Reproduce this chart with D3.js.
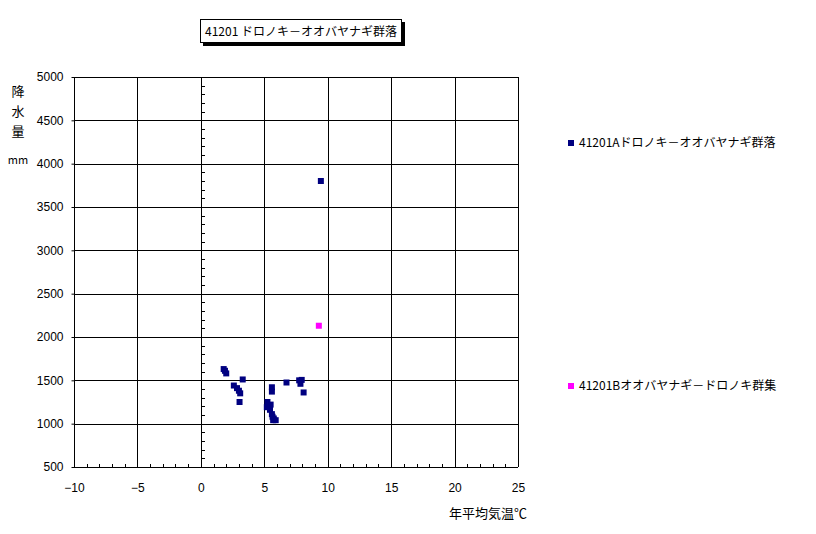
<!DOCTYPE html>
<html>
<head>
<meta charset="utf-8">
<script src="https://cdn.jsdelivr.net/npm/d3@7"></script>
<style>
  body { margin: 0; background: #fff; }
  text { font-family: "Noto Sans CJK JP", "DejaVu Sans", sans-serif; font-size: 12px; fill: #000; }
  .grid line { stroke: #000; stroke-width: 1; shape-rendering: crispEdges; }
  .num text { font-family: "Liberation Sans", sans-serif; font-size: 12px; }
</style>
</head>
<body>
<script>
var width = 816,
    height = 534;

var margin = {top: 77, left: 74, right: 298, bottom: 67};

// data
var titleText = "41201 ドロノキ－オオバヤナギ群落";
var seriesNames = ["41201Aドロノキ－オオバヤナギ群落", "41201Bオオバヤナギ－ドロノキ群集"];
var seriesColors = ["#000080", "#ff00ff"];
var xTicks = [-10, -5, 0, 5, 10, 15, 20, 25];
var yTicks = [500, 1000, 1500, 2000, 2500, 3000, 3500, 4000, 4500, 5000];

var seriesA = [
  [1.8, 1630], [1.9, 1610], [2.0, 1580],
  [3.3, 1510],
  [2.6, 1440], [2.85, 1410], [3.0, 1380], [3.1, 1350], [3.05, 1250],
  [5.6, 1420], [5.6, 1370],
  [5.25, 1250], [5.5, 1220], [5.2, 1190], [5.45, 1160], [5.6, 1110],
  [5.65, 1080], [5.75, 1060], [5.9, 1040], [5.7, 1040],
  [6.75, 1475],
  [7.75, 1500], [7.95, 1505], [7.85, 1460],
  [8.1, 1360],
  [9.46, 3800]
];
var seriesB = [
  [9.3, 2130]
];

var svg = d3.select("body").append("svg")
    .attr("width", width)
    .attr("height", height);

var x = d3.scaleLinear()
    .domain([-10, 25])
    .range([margin.left, width - margin.right]);

var y = d3.scaleLinear()
    .domain([500, 5000])
    .range([height - margin.bottom, margin.top]);

// grid
var grid = svg.append("g").attr("class", "grid");

grid.selectAll("line.v")
    .data(xTicks)
  .enter().append("line")
    .attr("class", "v")
    .attr("x1", function(d) { return Math.round(x(d)) + 0.5; })
    .attr("x2", function(d) { return Math.round(x(d)) + 0.5; })
    .attr("y1", y(5000))
    .attr("y2", y(500));

grid.selectAll("line.h")
    .data(yTicks)
  .enter().append("line")
    .attr("class", "h")
    .attr("x1", x(-10))
    .attr("x2", x(25))
    .attr("y1", function(d) { return Math.round(y(d)) + 0.5; })
    .attr("y2", function(d) { return Math.round(y(d)) + 0.5; });

// y axis on the left edge: outward major ticks
var yAxis = d3.axisLeft(y)
    .tickValues(yTicks)
    .tickSize(3)
    .tickPadding(8)
    .tickFormat(d3.format("d"));

var gy = svg.append("g")
    .attr("class", "num")
    .attr("transform", "translate(" + (Math.round(x(-10)) + 0.5) + ",0)")
    .call(yAxis);
gy.select(".domain").remove();

// x axis labels
var xAxis = d3.axisBottom(x)
    .tickValues(xTicks)
    .tickSize(0)
    .tickPadding(16)
    .tickFormat(function(d) { return d < 0 ? "−" + Math.abs(d) : d; });

var gx = svg.append("g")
    .attr("class", "num")
    .attr("transform", "translate(0," + (Math.round(y(500)) + 0.5) + ")")
    .call(xAxis);
gx.select(".domain").remove();

// minor ticks on bottom edge (every 1 unit, pointing up)
var xMinor = d3.range(-10, 25.01, 1);
svg.append("g").attr("class", "grid")
  .selectAll("line")
    .data(xMinor)
  .enter().append("line")
    .attr("x1", function(d) { return Math.round(x(d)) + 0.5; })
    .attr("x2", function(d) { return Math.round(x(d)) + 0.5; })
    .attr("y1", Math.round(y(500)))
    .attr("y2", Math.round(y(500)) - 3);

// minor ticks on x = 0 line (every 100, pointing right)
var yMinor = d3.range(500, 5000.01, 100);
svg.append("g").attr("class", "grid")
  .selectAll("line")
    .data(yMinor)
  .enter().append("line")
    .attr("x1", Math.round(x(0)) + 0.5)
    .attr("x2", Math.round(x(0)) + 3.5)
    .attr("y1", function(d) { return Math.round(y(d)) + 0.5; })
    .attr("y2", function(d) { return Math.round(y(d)) + 0.5; });

// points
var s = 6;
svg.append("g").selectAll("rect")
    .data(seriesA)
  .enter().append("rect")
    .attr("x", function(d) { return x(d[0]) - s / 2; })
    .attr("y", function(d) { return y(d[1]) - s / 2; })
    .attr("width", s)
    .attr("height", s)
    .style("fill", seriesColors[0]);

svg.append("g").selectAll("rect")
    .data(seriesB)
  .enter().append("rect")
    .attr("x", function(d) { return x(d[0]) - s / 2; })
    .attr("y", function(d) { return y(d[1]) - s / 2; })
    .attr("width", s)
    .attr("height", s)
    .style("fill", seriesColors[1]);

// title box with shadow
var tb = svg.append("g");
tb.append("rect")
    .attr("x", 203).attr("y", 22)
    .attr("width", 202).attr("height", 24)
    .style("fill", "#000");
tb.append("rect")
    .attr("x", 200.5).attr("y", 19.5)
    .attr("width", 201).attr("height", 23)
    .style("fill", "#fff").style("stroke", "#000");
tb.append("text")
    .attr("x", 301)
    .attr("y", 36)
    .attr("text-anchor", "middle")
    .style("font-size", "12px")
    .text(titleText);

// y axis title, vertical characters
svg.append("g").selectAll("text")
    .data(["降", "水", "量"])
  .enter().append("text")
    .attr("x", 18)
    .attr("y", function(d, i) { return 96 + i * 20; })
    .attr("text-anchor", "middle")
    .style("font-size", "13px")
    .text(function(d) { return d; });

svg.append("text")
    .attr("x", 18)
    .attr("y", 164)
    .attr("text-anchor", "middle")
    .style("font-size", "11px")
    .text("mm");

// x axis title
svg.append("text")
    .attr("x", 527)
    .attr("y", 518)
    .attr("text-anchor", "end")
    .style("font-size", "13px")
    .text("年平均気温℃");

// legend
var legendY = [143, 386];
var lg = svg.append("g").selectAll("g")
    .data(seriesNames)
  .enter().append("g")
    .attr("transform", function(d, i) { return "translate(568," + legendY[i] + ")"; });

lg.append("rect")
    .attr("x", 0).attr("y", -3)
    .attr("width", 6).attr("height", 6)
    .style("fill", function(d, i) { return seriesColors[i]; });

lg.append("text")
    .attr("x", 11)
    .attr("y", 4)
    .style("font-size", "12px")
    .text(function(d) { return d; });
</script>
</body>
</html>
